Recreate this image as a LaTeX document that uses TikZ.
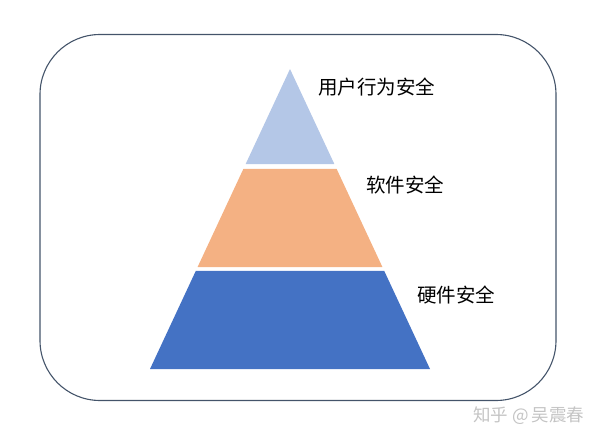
\documentclass[tikz,border=0pt]{standalone}
\usepackage{fontspec}
\setmainfont{Noto Sans CJK SC}
\usepackage{xcolor}
\usepackage{tikz}
\usetikzlibrary{positioning, calc, shapes}
\definecolor{framecol}{HTML}{44546A}
\definecolor{topcol}{HTML}{B4C7E7}
\definecolor{midcol}{HTML}{F4B183}
\definecolor{basecol}{HTML}{4472C4}
\definecolor{markcol}{HTML}{C4C4C4}

\begin{document}
\begin{tikzpicture}[x=1pt, y=-1pt,
          label text/.style={anchor=west, inner sep=0pt, font=\fontsize{19.5}{22}\selectfont}]
        \useasboundingbox (0,0) rectangle (600,439);
        \draw[framecol, line width=1.1pt, rounded corners=60pt] (40,34.5) rectangle (556,400.5);
        \coordinate (apex) at (290,69);
        \coordinate (bl) at (150,369);
        \coordinate (br) at (430,369);
        % layers of the pyramid
        \fill[topcol] (apex) -- ($(apex)!0.3167!(bl)$) -- ($(apex)!0.3167!(br)$) -- cycle;
        \fill[midcol] ($(apex)!0.3333!(bl)$) -- ($(apex)!0.66!(bl)$) -- ($(apex)!0.66!(br)$) -- ($(apex)!0.3333!(br)$) -- cycle;
        \fill[basecol] ($(apex)!0.6733!(bl)$) -- (bl) -- (br) -- ($(apex)!0.6733!(br)$) -- cycle;
        \node[label text] (user) at (318,87) {用户行为安全};
        \node[label text] (soft) at (366,185) {软件安全};
        \node[label text] (hard) at (417,295) {硬件安全};
        \node[anchor=west, inner sep=0pt, text=markcol, font=\fontsize{17.5}{20}\selectfont] (mark) at (473,416) {知乎 @\,吴震春};
      \end{tikzpicture}
\end{document}
